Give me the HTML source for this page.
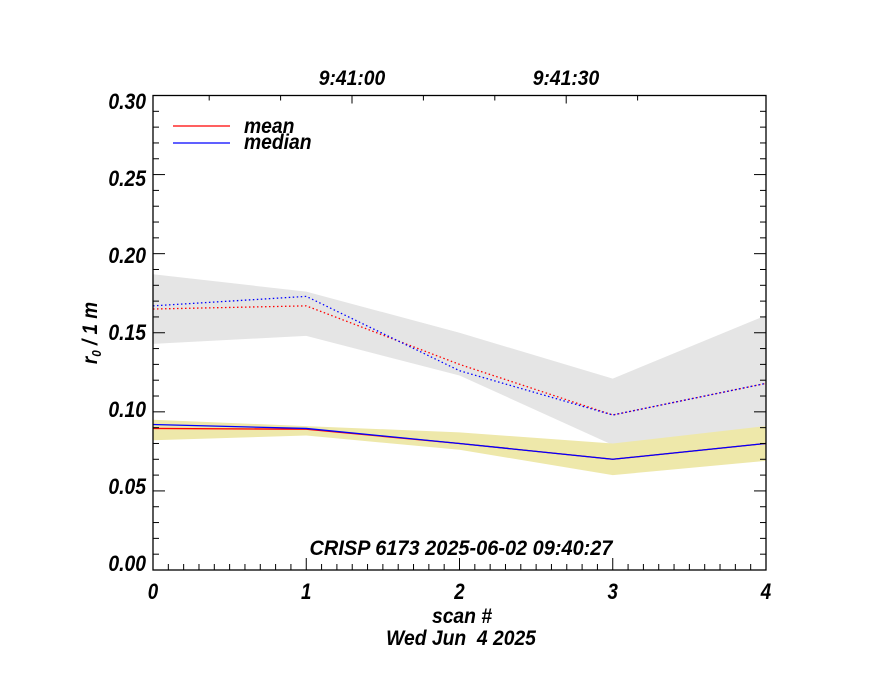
<!DOCTYPE html>
<html><head><meta charset="utf-8"><style>
body{margin:0;background:#fff;width:880px;height:680px;overflow:hidden}
text{font-family:"Liberation Sans",sans-serif;font-weight:bold;font-style:italic;fill:#000;white-space:pre}
</style></head><body>
<svg id="chart" width="880" height="680" xmlns="http://www.w3.org/2000/svg"></svg>
<script>
const scans=[0,1,2,3,4];
const meanDotted=[0.165,0.167,0.130,0.098,0.118];
const medianDotted=[0.167,0.173,0.126,0.098,0.118];
const greyUpper=[0.187,0.176,0.150,0.121,0.161];
const greyLower=[0.143,0.148,0.123,0.079,0.088];
const yellowUpper=[0.095,0.091,0.087,0.080,0.091];
const yellowLower=[0.082,0.085,0.076,0.060,0.069];
const meanSolid=[0.0895,0.089,0.080,0.070,0.080];
const medianSolid=[0.092,0.0895,0.080,0.070,0.080];
const yTicks=["0.00","0.05","0.10","0.15","0.20","0.25","0.30"];
const xTicks=["0","1","2","3","4"];
const topTicks=["9:41:00","9:41:30"];

const L=153,R=766,T=95.5,B=570;
const X=v=>L+(v-0)/(4-0)*(R-L);
const Y=v=>B-(v/0.30)*(B-T);
const svg=document.getElementById('chart');
const NS="http://www.w3.org/2000/svg";
function mk(tag,attrs,name){const e=document.createElementNS(NS,tag);for(const k in attrs)e.setAttribute(k,attrs[k]);


svg.appendChild(e);return e;}
function txt(x,y,anchor,size,s,name,sx){
 const e=mk('text',{transform:`translate(${x},${y}) scale(${sx||0.85},1)`,'text-anchor':anchor,'font-size':size},name);
 e.textContent=s;return e;}
function band(up,lo,fill,name){
 let pts=scans.map((s,i)=>X(s)+","+Y(up[i]));
 pts=pts.concat(scans.slice().reverse().map((s,j)=>{const i=scans.length-1-j;return X(s)+","+Y(lo[i]);}));
 mk('polygon',{points:pts.join(' '),fill:fill},name);
}
function line(vals,color,dash,name){
 mk('polyline',{points:scans.map((s,i)=>X(s)+","+Y(vals[i])).join(' '),fill:'none',stroke:color,'stroke-width':1.3,'stroke-dasharray':dash||'none'},name);
}
band(greyUpper,greyLower,'#e5e5e5','grey-band');
band(yellowUpper,yellowLower,'#eee8aa','yellow-band');
line(meanDotted,'#ff0000','1.5 2.5','mean-dotted-line');
line(medianDotted,'#0000ff','1.5 2.5','median-dotted-line');
line(meanSolid,'#ff0000','','mean-solid-line');
line(medianSolid,'#0000ff','','median-solid-line');
mk('rect',{x:L,y:T,width:R-L,height:B-T,fill:'none',stroke:'#000','stroke-width':1.3},'plot-frame');
for(let k=0;k<=30;k++){const v=k*0.01;const y=Y(v);const maj=k%5==0;const len=maj?12:6;
 mk('line',{x1:L,y1:y,x2:L+len,y2:y,stroke:'#000','stroke-width':1},'y-tick');
 mk('line',{x1:R,y1:y,x2:R-len,y2:y,stroke:'#000','stroke-width':1},'y-tick-right');}
yTicks.forEach((t,i)=>{txt(146,B-i*77+1,'end',22,t,'y-tick-label',0.88);});
for(let k=0;k<=40;k++){const v=k*0.1;const x=X(v);const maj=k%10==0;const len=maj?12:6;
 mk('line',{x1:x,y1:B,x2:x,y2:B-len,stroke:'#000','stroke-width':1},'x-tick');}
xTicks.forEach((t,i)=>{txt(X(i),599,'middle',22,t,'x-tick-label');});
const topMajor=[352,566];
for(let k=-2;k<=4;k++){const x=352+k*71.4;if(x<L||x>R)continue;const maj=(k%3==0);
 mk('line',{x1:x,y1:T,x2:x,y2:T+(maj?8:5),stroke:'#000','stroke-width':1},'top-tick');}
topTicks.forEach((t,i)=>{txt(topMajor[i],85,'middle',21,t,'top-tick-label',0.92);});
txt(462,623,'middle',21,'scan #','x-axis-title',0.92);
txt(461,645,'middle',21,'Wed Jun  4 2025','date-label',0.92);
txt(461,555,'middle',21,'CRISP 6173 2025-06-02 09:40:27','dataset-label',0.95);
const yt=mk('text',{transform:'translate(97,333) rotate(-90) scale(0.9,1)','text-anchor':'middle','font-size':21},'y-axis-title');
yt.innerHTML='r<tspan font-size="13" dy="4">0</tspan><tspan dy="-4"> / 1 m</tspan>';
mk('line',{x1:173,y1:126,x2:230,y2:126,stroke:'#ff0000','stroke-width':1.2},'legend-mean-line');
txt(244,133,'start',21,'mean','legend-mean-label',0.92);
mk('line',{x1:173,y1:143,x2:230,y2:143,stroke:'#0000ff','stroke-width':1.2},'legend-median-line');
txt(244,149,'start',21,'median','legend-median-label',0.92);
</script>
</body></html>
